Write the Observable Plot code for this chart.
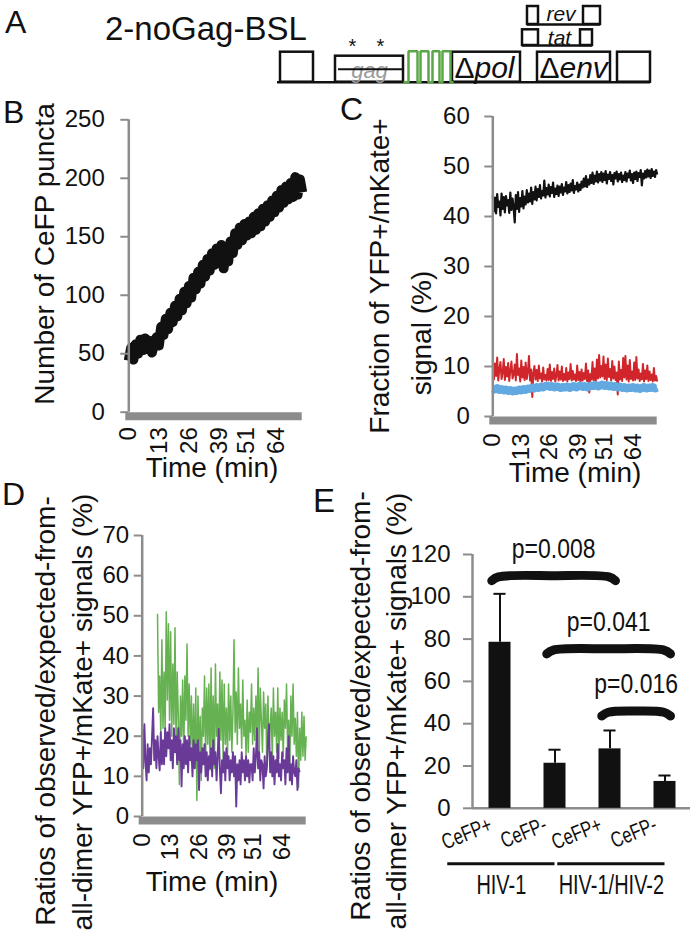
<!DOCTYPE html>
<html><head><meta charset="utf-8">
<script src="https://cdn.jsdelivr.net/npm/d3@7"></script>
<script src="https://cdn.jsdelivr.net/npm/@observablehq/plot@0.6"></script>
<style>
html,body{margin:0;padding:0;background:#fff;}
#root{position:relative;width:694px;height:937px;overflow:hidden;font-family:"Liberation Sans",Arial,sans-serif;color:#111;}
.t{position:absolute;white-space:nowrap;line-height:1;}
</style></head><body><div id="root"></div>
<script>
// ---------------- DATA ----------------
const timeTicks = [0, 13, 26, 39, 51, 64];

// Panel B: number of CeFP puncta, one value per minute (t = 0..75)
const bPuncta = [
  44,55,45,58,50,62,53,63,54,61,
  51,60,64,57,73,66,80,71,85,77,
  91,82,97,87,103,93,108,98,115,105,
  120,110,126,116,131,121,136,126,140,129,
  143,123,139,129,146,136,153,143,158,147,
  161,151,163,153,167,156,170,159,174,163,
  177,167,181,171,185,175,190,179,193,182,
  196,184,201,186,199,188];
const bTicks = [0, 50, 100, 150, 200, 250];

// Panel C: fraction of YFP+/mKate+ signal (%), every 0.5 min (t = 0..75)
const cBlack = [
  44.2,41.0,43.8,40.6,44.5,41.9,43.0,40.2,44.6,41.5,
  43.9,40.8,44.1,42.2,43.3,40.7,44.8,41.3,43.6,41.8,
  38.8,44.3,41.5,44.9,40.9,43.7,42.0,45.1,41.6,44.0,
  42.4,45.3,42.8,44.6,43.0,45.8,42.5,44.9,43.4,46.0,
  43.2,45.5,43.9,46.3,43.6,45.1,44.2,47.2,43.8,45.7,
  44.4,46.4,44.0,45.9,44.7,46.8,43.9,45.6,44.5,46.2,
  44.1,46.0,44.8,46.5,44.3,45.8,45.0,46.9,44.6,46.3,
  44.9,46.6,45.2,47.3,44.7,46.1,45.4,46.8,45.0,46.4,
  45.3,47.0,45.8,47.6,46.0,48.1,45.9,47.4,46.4,48.3,
  46.7,48.8,46.5,48.2,47.0,49.0,46.8,48.5,47.2,48.9,
  46.9,48.6,47.3,49.1,46.6,48.4,47.5,48.9,47.1,48.3,
  46.4,48.7,47.6,49.0,47.0,48.5,47.4,48.8,46.9,48.2,
  47.3,48.9,47.0,48.6,47.8,49.2,47.2,48.5,46.7,48.8,
  47.5,49.0,47.1,48.7,47.9,49.3,46.2,48.6,47.6,49.1,
  47.8,49.4,48.0,49.2,47.7,49.5,48.1,49.0,47.9,49.3,
  48.4];
const cRed = [
  11.2,7.4,10.6,8.1,11.8,7.2,9.5,10.9,7.5,8.8,
  11.5,7.3,9.9,8.0,10.7,7.1,9.2,11.0,7.6,8.4,
  10.4,7.2,12.5,8.3,9.6,7.0,11.2,7.8,9.9,7.3,
  10.8,7.5,8.9,12.1,7.2,9.4,3.9,8.7,10.1,7.4,
  9.3,7.1,10.2,7.6,8.6,7.0,9.8,7.4,8.3,7.2,
  9.5,7.3,10.4,7.1,8.9,7.5,9.6,7.0,8.2,10.3,
  7.2,9.0,7.4,10.0,7.1,8.5,7.3,9.7,7.0,8.8,
  7.5,10.5,7.2,9.1,7.4,8.4,7.1,10.2,7.3,8.9,
  6.8,9.4,7.2,8.7,7.5,10.6,7.1,9.2,4.8,8.5,
  7.4,10.9,7.2,9.6,7.0,11.4,7.6,12.3,7.8,10.1,
  8.0,12.0,7.5,10.4,7.3,11.6,7.9,9.5,7.2,11.1,
  7.6,10.0,7.3,8.8,4.4,11.0,7.4,9.3,7.1,11.7,
  7.8,12.1,7.4,10.2,7.0,11.3,7.5,9.0,7.2,10.8,
  7.3,11.9,7.6,9.4,7.1,8.6,7.4,10.5,7.0,9.2,
  7.5,10.2,7.1,9.0,7.3,8.4,7.0,9.7,7.2,8.1,
  7.0];
const cBlue = [   // one value per minute
  5.6,5.4,5.7,5.3,5.5,5.2,5.4,5.1,5.3,5.0,
  5.2,5.1,5.4,5.2,5.5,5.3,5.6,5.5,5.8,5.6,
  5.9,5.7,6.0,5.8,6.1,6.2,5.9,6.1,5.8,6.0,
  5.9,5.7,5.9,5.8,6.0,5.7,5.9,6.1,5.8,6.0,
  6.2,5.9,6.1,5.8,6.0,6.2,6.1,6.3,6.0,6.2,
  6.4,6.1,6.3,6.0,6.2,5.9,6.1,5.8,6.0,5.7,
  5.9,5.6,5.8,5.7,5.9,5.6,5.8,5.5,5.7,5.9,
  5.6,5.8,5.7,5.9,5.6,5.8];
const cTicks = [0, 10, 20, 30, 40, 50, 60];

// Panel D: ratios observed/expected (%), every 0.5 min
const dGreenStart = 7;   // t = 7..75
const dGreen = [
  50.5,26,35,20,44,22,36,21,51,29,
  48,24,46,20,38,23,47,17,36,25,
  8,30,20,34,15,35,24,43,20,33,
  18,30,13,28,12,32,4,30,14,25,
  9,27,20,35,14,32,18,33,11.6,37,
  16,30,12,38,20,28,15,36,19,34,
  14,33,18,27,14.5,33,19,30,16,26,
  44,21,31,18,37,22,28,17,34,20,
  24,15,29,16,26,21,33,18,27,19,
  30,20,37,15,32,24,16,31,22,28,
  12.5,30,17,22,27,14,32,20,26,16,
  32,14.5,27,19,26,15,29,22,33,17,
  24,13,30,20,33,18,24.5,15,26,7.3,
  22,14,26,15,25,14,20];
const dPurple = [        // t = 0..72
  22.5,12,23,14,9,18,11,17,13,20,
  27,14,19,12,20,15,11.5,21,13,19,
  13,22,15,21,17,23,14,19,12,22,
  16,20,13,22,14,19,7.5,18,12,20,
  13,19,11,20,14,17,10,19,12,18,
  14,19,6.6,16,11,17,13,18,10,16,
  9,15,12,17,10,19,13,16,9,15,
  21.8,12,5.8,14,11,16,9,17,12,15,
  9,14,11,16,10,15,2.5,13,9,14,
  8,16,11,14,9,15,10,14,8.5,13,
  13,9,17,11,15,22,12,16,9,14,
  13,7,15,10,12,19,23,11,16,10,
  15,8,14,11,18,10,13,9,16,12,
  14,8,17,11,20,9,13,8,15,11,
  10,14,6.6,12,11];
const dTicks = [0, 10, 20, 30, 40, 50, 60, 70];

// Panel E: bar chart
const eLabels = ["CeFP+", "CeFP-", "CeFP+", "CeFP-"];
const eMeans = [78.5, 21.3, 28.1, 12.7];
const eErrors = [22.9, 6.4, 8.7, 2.8];
const eTicks = [0, 20, 40, 60, 80, 100, 120];
const eGroups = [{name: "HIV-1", from: 0, to: 1}, {name: "HIV-1/HIV-2", from: 2, to: 3}];
const eTests = [
  {p: "p=0.008", from: 0, to: 2, level: 110},
  {p: "p=0.041", from: 1, to: 3, level: 75.4},
  {p: "p=0.016", from: 2, to: 3, level: 46}];

// Panel A: genome schematic (schematic units along the construct)
const regions = [
  {name: "LTR5", start: 3, end: 36, top: 30},
  {name: "gag", start: 58, end: 126, top: 26},
  {name: "pol", start: 175, end: 243, top: 30},
  {name: "env", start: 260, end: 333, top: 30},
  {name: "LTR3", start: 340, end: 373, top: 30}];
const genomeLength = 373;
const gagStops = [75, 103];
const bslStart = 127, bslEnd = 175, bslHeight = 31;
const bslPulses = [[131, 140], [143, 151], [155, 162], [165, 173]];
const transcripts = [
  {name: "tat", exons: [[245, 261], [303, 315]], low: 36.7, high: 52.4, lift: 1},
  {name: "rev", exons: [[250, 261], [306, 323]], low: 57.7, high: 75.7, lift: 4}];

// ---------------- HELPERS ----------------
const root = document.getElementById("root");
const FONT = '"Liberation Sans", Arial, Helvetica, sans-serif';
const GRAY = "#8c8c8c";
const INK = "#111111";
const svgStyle = {background: "transparent", overflow: "visible", fontFamily: FONT, maxWidth: "none"};

function label(text, {x, y, size = 28, anchor = "start", rotate = false}) {
  const d = document.createElement("div");
  d.className = "t";
  d.textContent = text;
  d.style.fontSize = size + "px";
  if (rotate) {
    d.style.left = x + "px"; d.style.top = y + "px";
    d.style.transform = "translate(-50%,-50%) rotate(-90deg)";
  } else {
    d.style.top = (y - 0.8465 * size) + "px";
    d.style.left = x + "px";
    if (anchor === "middle") d.style.transform = "translateX(-50%)";
  }
  root.append(d);
}
function mount(svg, left, top) {
  svg.style.position = "absolute";
  svg.style.left = left + "px";
  svg.style.top = top + "px";
  root.append(svg);
}
function frame(left, top, width, height, fx0, fx1, fy0, fy1) {
  return {width, height, marginLeft: fx0 - left, marginRight: left + width - fx1,
          marginTop: fy0 - top, marginBottom: top + height - fy1};
}
function series(values, t0, step) { return values.map((v, i) => ({t: t0 + i * step, v})); }
// condensed look: squeeze a text element horizontally around its own anchor
function narrow(el, r) {
  const tr = el.getAttribute("transform") || "";
  const x = +el.getAttribute("x") || 0, y = +el.getAttribute("y") || 0;
  el.setAttribute("transform", `${tr} translate(${x},${y}) scale(${r},1) translate(${-x},${-y})`);
}

function timePanel({pos, ydomain, yticks, tickPadding, xPadding, lines}) {
  return Plot.plot({
    ...pos,
    x: {domain: [0, 75]},
    y: {domain: ydomain},
    style: svgStyle,
    marks: [
      ...lines.map(s => Plot.line(series(s.values, s.t0, s.step), {x: "t", y: "v", stroke: s.color, strokeWidth: s.width, strokeLinejoin: "round", strokeLinecap: "butt"})),
      Plot.ruleY([0], {stroke: GRAY, strokeWidth: 8, dy: 4, insetLeft: -3}),
      Plot.ruleX([0], {y1: ydomain[0], y2: ydomain[1], stroke: GRAY, strokeWidth: 2.5}),
      Plot.axisY({ticks: yticks, tickSize: 8, tickPadding, fontSize: 24, stroke: GRAY, strokeWidth: 2, fill: INK, label: null}),
      Plot.axisX({ticks: timeTicks, tickSize: 0, tickRotate: -90, tickPadding: xPadding, fontSize: 24, fill: INK, label: null})
    ]
  });
}

// ---------------- PANEL A ----------------
const bslPath = [{x: bslStart, y: 0}];
for (const [a, b] of bslPulses) bslPath.push({x: a, y: 0}, {x: a, y: bslHeight}, {x: b, y: bslHeight}, {x: b, y: 0});
bslPath.push({x: bslEnd, y: 0});
const gag = regions.find(r => r.name === "gag");
const deltaRegions = regions.filter(r => r.name === "pol" || r.name === "env");
const exonRows = transcripts.flatMap(t => t.exons.map(([s, e]) => ({s, e, low: t.low, high: t.high})));

const plotA = Plot.plot({
  ...frame(260, 0, 434, 95, 277, 652, 0, 81.7),
  x: {domain: [0, 375], axis: null},
  y: {domain: [0, 81.7], axis: null},
  style: svgStyle,
  marks: [
    Plot.ruleY([0], {x1: 0, x2: genomeLength, stroke: INK, strokeWidth: 2.5}),
    Plot.rect(regions, {x1: "start", x2: "end", y1: 0, y2: "top", fill: "white", stroke: INK, strokeWidth: 2.5}),
    Plot.text([gag], {x: d => (d.start + d.end) / 2, y: 0, dy: -4.7, text: d => d.name, fontStyle: "italic", fontSize: 22, fill: "#9a9a9a", lineAnchor: "bottom"}),
    Plot.ruleY([gag], {x1: d => d.start + 3, x2: "end", y: d => d.top / 2, stroke: INK, strokeWidth: 2}),
    Plot.text(gagStops, {x: d => d, y: gag.top, dy: -2.8, text: () => "*", fontSize: 20, fill: INK, lineAnchor: "bottom"}),
    Plot.line(bslPath, {x: "x", y: "y", stroke: "#5aa845", strokeWidth: 2.5, strokeLinejoin: "miter"}),
    Plot.text(deltaRegions, {x: "start", y: 0, dx: 2, dy: -4, text: () => "Δ", textAnchor: "start", fontSize: 30, fill: INK, lineAnchor: "bottom"}),
    Plot.text(deltaRegions, {x: "start", y: 0, dx: 22, dy: -4, text: "name", textAnchor: "start", fontSize: 30, fontStyle: "italic", fill: INK, lineAnchor: "bottom"}),
    Plot.rect(exonRows, {x1: "s", x2: "e", y1: "low", y2: "high", fill: "none", stroke: INK, strokeWidth: 2.5}),
    Plot.ruleY(transcripts, {x1: d => d.exons[0][0], x2: d => d.exons[d.exons.length - 1][1], y: "low", stroke: INK, strokeWidth: 2.5}),
    Plot.text(transcripts, {x: d => (d.exons[0][1] + d.exons[1][0]) / 2, y: d => d.low + d.lift, text: "name", fontSize: 21, fontStyle: "italic", fill: INK, lineAnchor: "bottom"})
  ]
});
mount(plotA, 260, 0);

// ---------------- PANEL B ----------------
mount(timePanel({
  pos: frame(55, 95, 265, 370, 128.3, 301.7, 119.3, 411.7),
  ydomain: [0, 250], yticks: bTicks, tickPadding: 16, xPadding: 15,
  lines: [{values: bPuncta, t0: 0, step: 1, color: INK, width: 10}]
}), 55, 95);

// ---------------- PANEL C ----------------
mount(timePanel({
  pos: frame(420, 95, 274, 370, 492.3, 656.7, 116, 416),
  ydomain: [0, 60], yticks: cTicks, tickPadding: 15, xPadding: 17,
  lines: [
    {values: cRed, t0: 0, step: 0.5, color: "#d0262b", width: 2},
    {values: cBlue, t0: 0, step: 1, color: "#62a9e2", width: 8},
    {values: cBlack, t0: 0, step: 0.5, color: INK, width: 2.2}]
}), 420, 95);

// ---------------- PANEL D ----------------
mount(timePanel({
  pos: frame(55, 520, 265, 360, 141.7, 305.7, 535, 816),
  ydomain: [0, 70], yticks: dTicks, tickPadding: 5, xPadding: 17,
  lines: [
    {values: dGreen, t0: dGreenStart, step: 0.5, color: "#66b152", width: 1.5},
    {values: dPurple, t0: 0, step: 0.5, color: "#6a3a98", width: 1.9}]
}), 55, 520);

// ---------------- PANEL E ----------------
const eIdx = eMeans.map((_, i) => i);
const bracketPts = eTests.flatMap((b, k) => {
  const x1 = b.from + 0.35, x2 = b.to + 0.6, m = (x1 + x2) / 2;
  return [
    {k, x: x1, y: b.level - 2.4}, {k, x: x1 + 0.12, y: b.level - 0.6},
    {k, x: m, y: b.level}, {k, x: x2 - 0.12, y: b.level - 0.6}, {k, x: x2, y: b.level - 2.4}];
});
const plotE = Plot.plot({
  ...frame(420, 525, 274, 400, 472, 692, 554, 807.8),
  x: {domain: [0, 4], axis: null},
  y: {domain: [0, 120]},
  style: svgStyle,
  marks: [
    Plot.ruleY([0], {stroke: GRAY, strokeWidth: 2.5, insetRight: 2}),
    Plot.ruleX([0], {y1: 0, y2: 120, stroke: GRAY, strokeWidth: 2.5}),
    Plot.axisY({ticks: eTicks, tickSize: 9, tickPadding: 13, fontSize: 24, stroke: GRAY, strokeWidth: 2, fill: INK, label: null}),
    Plot.rect(eIdx, {x1: i => i + 0.3, x2: i => i + 0.7, y1: 0, y2: i => eMeans[i], fill: INK}),
    Plot.ruleX(eIdx, {x: i => i + 0.5, y1: i => eMeans[i], y2: i => eMeans[i] + eErrors[i], stroke: INK, strokeWidth: 2}),
    Plot.ruleY(eIdx, {y: i => eMeans[i] + eErrors[i], x1: i => i + 0.39, x2: i => i + 0.61, stroke: INK, strokeWidth: 2}),
    Plot.line(bracketPts, {x: "x", y: "y", z: "k", curve: "catmull-rom", stroke: INK, strokeWidth: 9, strokeLinecap: "round"}),
    Plot.text(eTests, {x: d => (d.from + 0.35 + d.to + 0.6) / 2, y: "level", dy: -18, text: "p", fontSize: 28, fill: INK, lineAnchor: "bottom"}),
    Plot.text(eIdx, {x: i => i + 0.38, y: 0, dy: 22, text: i => eLabels[i], rotate: -22, textAnchor: "end", lineAnchor: "bottom", fontSize: 22, fill: INK}),
    Plot.ruleY(eGroups, {x1: d => d.from - 0.45, x2: d => d.to + 0.5, y: 0, dy: 55.5, stroke: INK, strokeWidth: 3}),
    Plot.text(eGroups, {x: d => (d.from - 0.45 + d.to + 0.5) / 2, y: 0, dy: 86, text: "name", fontSize: 27, fill: INK, lineAnchor: "bottom"})
  ]
});
mount(plotE, 420, 525);
// panel E uses a condensed face in the original
plotE.querySelectorAll('g[aria-label="text"] text').forEach(el => {
  narrow(el, /^CeFP/.test(el.textContent) ? 0.75 : /^HIV/.test(el.textContent) ? 0.74 : 0.82);
});

// ---------------- TEXT ----------------
label("A", {x: 5, y: 33, size: 32});
label("2-noGag-BSL", {x: 105, y: 40, size: 33});
label("B", {x: 3, y: 123, size: 32});
label("C", {x: 340, y: 120, size: 32});
label("D", {x: 2, y: 505, size: 32});
label("E", {x: 313, y: 512, size: 33});
label("Number of CeFP puncta", {x: 45, y: 254, size: 28, rotate: true});
label("Fraction of YFP+/mKate+", {x: 380, y: 276, size: 28, rotate: true});
label("signal (%)", {x: 422, y: 333, size: 28, rotate: true});
label("Ratios of observed/expected-from-", {x: 46, y: 711, size: 28, rotate: true});
label("all-dimer YFP+/mKate+ signals (%)", {x: 83, y: 712, size: 28, rotate: true});
label("Ratios of observed/expected-from-", {x: 361, y: 706, size: 28, rotate: true});
label("all-dimer YFP+/mKate+ signals (%)", {x: 397, y: 711, size: 28, rotate: true});
label("Time (min)", {x: 212, y: 478, size: 28, anchor: "middle"});
label("Time (min)", {x: 575, y: 483, size: 28, anchor: "middle"});
label("Time (min)", {x: 212, y: 892, size: 28, anchor: "middle"});
</script></body></html>
